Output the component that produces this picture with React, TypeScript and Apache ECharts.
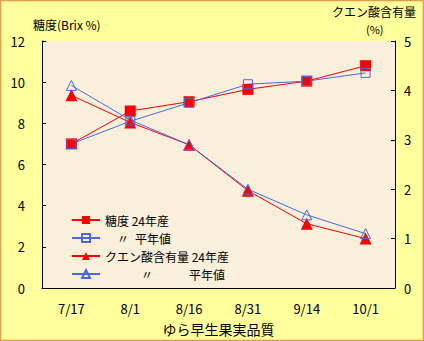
import React, { useEffect, useRef } from "react";
import * as echarts from "echarts";

const categories = ["7/17", "8/1", "8/16", "8/31", "9/14", "10/1"];
const sugar24 = [7.0, 8.6, 9.05, 9.65, 10.05, 10.8];
const sugarAvg = [7.0, 8.1, 9.0, 9.9, 10.05, 10.45];
const acid24 = [3.9, 3.35, 2.9, 1.97, 1.3, 1.0];
const acidAvg = [4.1, 3.4, 2.9, 2.0, 1.48, 1.1];
const seriesNames = [
  "糖度 24年産",
  "\u3000〃\u2002平年値",
  "クエン酸含有量 24年産",
  "\u3000\u3000\u3000〃\u3000\u3000\u3000平年値",
];

const RED = "#FF0000";
const BLUE = "#4A68E0";
const FONT = "'Noto Sans CJK JP', 'Noto Sans', sans-serif";

export default function App() {
  const ref = useRef<HTMLDivElement>(null);
  useEffect(() => {
    document.body.style.margin = "0";
    const chart = echarts.init(ref.current!, undefined, { renderer: "svg" });
    chart.setOption({
      animation: false,
      backgroundColor: "#FFFF9C",
      textStyle: { fontFamily: FONT, color: "#000" },
      grid: {
        left: 42,
        right: 29,
        top: 41,
        bottom: 47,
        show: true,
        backgroundColor: "#F9EFDB",
        borderWidth: 0,
      },
      graphic: [
        {
          type: "rect",
          shape: { x: 0.5, y: 0.5, width: 423, height: 340 },
          style: { fill: "none", stroke: "#E39B4C", lineWidth: 1.5 },
          z: 100,
        },
        {
          type: "text",
          left: 33,
          top: 18,
          style: { text: "糖度(Brix %)", fontSize: 12, fontFamily: FONT, fill: "#000" },
        },
        {
          type: "text",
          left: 332,
          top: 5,
          style: { text: "クエン酸含有量", fontSize: 12, fontFamily: FONT, fill: "#000" },
        },
        {
          type: "text",
          left: 366,
          top: 23,
          style: { text: "(%)", fontSize: 11, fontFamily: FONT, fill: "#000" },
        },
      ],
      legend: {
        orient: "vertical",
        left: 66,
        top: 209,
        itemWidth: 28,
        itemHeight: 10,
        itemGap: 6,
        textStyle: { fontSize: 12, fontFamily: FONT, color: "#000" },
        data: seriesNames,
      },
      xAxis: {
        type: "category",
        data: categories,
        boundaryGap: true,
        name: "ゆら早生果実品質",
        nameLocation: "middle",
        nameGap: 34,
        nameTextStyle: { fontSize: 14, fontFamily: FONT, color: "#000" },
        axisLine: { lineStyle: { color: "#000", width: 1 } },
        axisTick: { inside: true, length: 4, lineStyle: { color: "#000" } },
        axisLabel: { fontSize: 13, color: "#000", margin: 14, fontFamily: FONT },
      },
      yAxis: [
        {
          type: "value",
          min: 0,
          max: 12,
          interval: 2,
          position: "left",
          axisLine: { show: true, lineStyle: { color: "#000", width: 1 } },
          axisTick: { show: true, inside: true, length: 4, lineStyle: { color: "#000" } },
          axisLabel: { fontSize: 13, color: "#000", margin: 17, fontFamily: FONT },
          splitLine: { show: false },
        },
        {
          type: "value",
          min: 0,
          max: 5,
          interval: 1,
          position: "right",
          axisLine: { show: true, lineStyle: { color: "#000", width: 1 } },
          axisTick: { show: true, inside: true, length: 4, lineStyle: { color: "#000" } },
          axisLabel: { fontSize: 13, color: "#000", margin: 9, fontFamily: FONT },
          splitLine: { show: false },
        },
      ],
      series: [
        {
          name: seriesNames[0],
          type: "line",
          yAxisIndex: 0,
          data: sugar24,
          symbol: "rect",
          symbolSize: 11,
          itemStyle: { color: RED },
          lineStyle: { color: RED, width: 1 },
        },
        {
          name: seriesNames[1],
          type: "line",
          yAxisIndex: 0,
          data: sugarAvg,
          symbol: "rect",
          symbolSize: 9,
          itemStyle: { color: "rgba(0,0,0,0)", borderColor: BLUE, borderWidth: 1 },
          lineStyle: { color: BLUE, width: 1 },
        },
        {
          name: seriesNames[2],
          type: "line",
          yAxisIndex: 1,
          data: acid24,
          symbol: "triangle",
          symbolSize: 12,
          itemStyle: { color: RED },
          lineStyle: { color: RED, width: 1 },
        },
        {
          name: seriesNames[3],
          type: "line",
          yAxisIndex: 1,
          data: acidAvg,
          symbol: "triangle",
          symbolSize: 10,
          itemStyle: { color: "rgba(0,0,0,0)", borderColor: BLUE, borderWidth: 1 },
          lineStyle: { color: BLUE, width: 1 },
        },
      ],
    });
    return () => chart.dispose();
  }, []);
  return <div ref={ref} style={{ width: 424, height: 341 }} />;
}
